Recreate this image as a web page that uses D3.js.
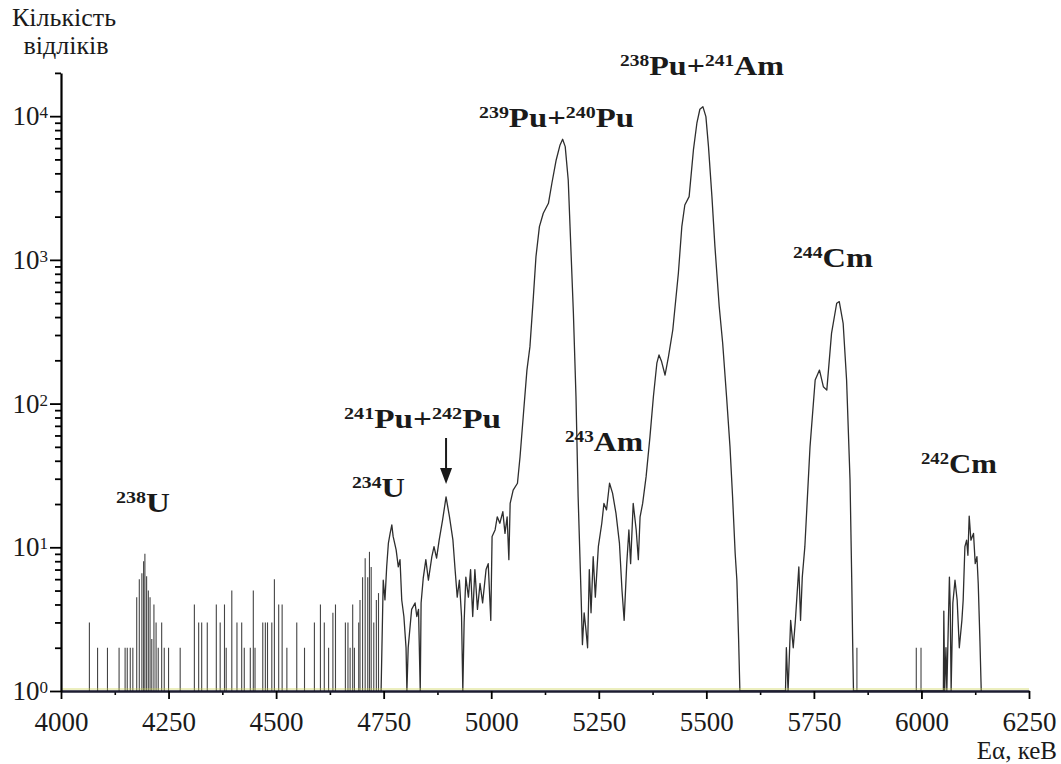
<!DOCTYPE html>
<html>
<head>
<meta charset="utf-8">
<script src="https://cdn.jsdelivr.net/npm/d3@7"></script>
<style>
  body { margin: 0; background: #fff; }
  svg { display: block; }
</style>
</head>
<body>
<svg id="chart" width="1061" height="764"></svg>
<script>
// ---- data (energies in keV, counts per channel) ----
// isolated one-channel spikes of the background
const spikeE = [4066, 4085, 4108, 4135, 4149, 4154, 4161, 4167, 4176, 4182, 4188, 4192, 4195, 4199, 4203, 4207, 4211, 4216,
  4221, 4226, 4234, 4240, 4250, 4277, 4310, 4320, 4327, 4340, 4361, 4370, 4380, 4384, 4397, 4409, 4420, 4426, 4440, 4447, 4451,
  4469, 4475, 4480, 4490, 4496, 4506, 4514, 4525, 4548, 4566, 4589, 4603, 4612, 4622, 4632, 4638, 4661, 4667, 4672, 4678, 4682,
  4692, 4695, 4701, 4707, 4713, 4717, 4721, 4727, 4733, 4738, 5850, 5988, 5999];
const spikeN = [3, 2, 2, 2, 2, 2, 2, 2, 4.5, 6, 6.6, 8, 9, 6.3, 5, 4.5, 2.3, 4,
  3, 2, 3, 2, 2, 2, 4, 3, 3, 3, 4, 3, 4, 2, 5, 3, 3, 2, 2, 5, 2,
  3, 3, 3, 3, 6, 4, 4, 2, 3, 2, 3, 4, 3, 2, 3.5, 4, 3, 3, 2, 4, 2,
  3, 4.3, 6.2, 8.4, 6.2, 9.3, 7.3, 3, 4.3, 4.8, 2, 2, 2];

// continuous trace (234U ... 238Pu+241Am, 244Cm, 242Cm)
const traceE = [4744, 4749, 4753, 4757, 4761, 4765, 4769, 4772, 4779, 4784,
  4788, 4792, 4797, 4802, 4804, 4807, 4815, 4823, 4827, 4831,
  4835, 4837, 4842, 4848, 4854, 4862, 4867, 4873, 4879, 4887,
  4895, 4903, 4911, 4916, 4921, 4926, 4931, 4934, 4937, 4941,
  4947, 4952, 4957, 4962, 4968, 4974, 4980, 4988, 4993, 4999,
  5002, 5009, 5014, 5020, 5027, 5032, 5037, 5041, 5044, 5051,
  5061, 5067, 5075, 5083, 5090, 5098, 5104, 5112, 5121, 5133,
  5141, 5151, 5160, 5166, 5172, 5179, 5185, 5191, 5197, 5202,
  5209, 5212, 5216, 5220, 5224, 5228, 5232, 5237, 5242, 5249,
  5257, 5262, 5268, 5275, 5282, 5290, 5298, 5304, 5309, 5315,
  5320, 5324, 5330, 5337, 5342, 5346, 5352, 5360, 5369, 5377,
  5385, 5390, 5396, 5404, 5412, 5422, 5435, 5443, 5450, 5460,
  5470, 5478, 5485, 5492, 5499, 5505, 5513, 5520, 5530, 5538,
  5547, 5555, 5561, 5567, 5571, 5575, 5578,
  5684, 5686, 5690, 5696, 5702, 5707, 5715, 5719, 5723, 5729, 5741, 5753,
  5763, 5772, 5780, 5791, 5803, 5809, 5818, 5826, 5834, 5838, 5840, 5842,
  6051, 6052, 6054, 6057, 6059, 6065, 6067, 6069, 6073, 6078, 6083, 6088, 6094,
  6097, 6101, 6105, 6108, 6111, 6115, 6121, 6125, 6129, 6132, 6136, 6139];
const traceN = [1, 5.9, 4.3, 7.3, 10.7, 12.5, 14.3, 11.9, 9.6, 7.3,
  8.2, 4.3, 3.3, 2.0, 1, 2.0, 3.7, 4.1, 3.3, 3.7,
  1, 4.1, 6.1, 8.2, 5.9, 8.6, 10.1, 8.4, 11.2, 15.5,
  22.4, 16.3, 11.2, 7.0, 4.5, 5.9, 3.3, 1, 3.0, 6.2,
  4.5, 7.0, 3.3, 7.0, 3.7, 5.6, 4.1, 7.0, 7.7, 3.1,
  11.9, 13.2, 16.3, 14.7, 17.7, 12.5, 16.3, 8.2, 20.2, 25,
  27.9, 42.7, 85.6, 171, 249, 555, 1052, 1702, 2109, 2476,
  3413, 4956, 6310, 6910, 6137, 3598, 1236, 425, 112, 22.5,
  4.5, 2.1, 3.5, 2.7, 2.0, 7.0, 3.5, 8.6, 4.5, 10.1,
  14.7, 20.2, 18.2, 27.9, 23.8, 17.2, 10.7, 5.0, 3.1, 7.7,
  13.2, 7.7, 20.2, 13.2, 8.2, 16.3, 20.2, 31, 58.9, 112,
  191, 218, 196, 158, 212, 325, 807, 1702, 2410, 2754,
  5820, 8930, 11170, 11640, 9930, 6137, 2754, 1236, 472, 263,
  112, 50, 22.5, 9.1, 5.9, 2.3, 1,
  1, 2, 1, 3.1, 2, 3.1, 7.3, 3.1, 6.2, 10.1, 50, 146,
  171, 131, 124, 308, 499, 512, 362, 146, 29.4, 5.9, 2.3, 1,
  1, 3.6, 1, 2.0, 1, 6.2, 3.7, 1, 4.1, 5.9, 4.3, 2.0, 3.1,
  4.3, 10.1, 11.2, 8.8, 16.5, 11.2, 12.5, 7.7, 8.6, 5.6, 2.2, 1];

const xTicks = [4000, 4250, 4500, 4750, 5000, 5250, 5500, 5750, 6000, 6250];
const yTicks = [1, 10, 100, 1000, 10000];
const yExp = ["0", "1", "2", "3", "4"];

// isotope labels: [superscript, text, superscript, text]
const isoLabels = [["238", "U"], ["234", "U"], ["241", "Pu+", "242", "Pu"], ["239", "Pu+", "240", "Pu"],
  ["238", "Pu+", "241", "Am"], ["243", "Am"], ["244", "Cm"], ["242", "Cm"]];
const arrowAt = 4895; // 241Pu+242Pu peak

// ---- chart ----
const serif = "Liberation Serif";
const ink = "#1a1a1a";
const svg = d3.select("#chart");
const x = d3.scaleLinear().domain([4000, 6250]).range([61, 1029]);
const y = d3.scaleLog().domain([1, 20000]).range([691, 72.9]);

// spectrum
const g = svg.append("g");
g.selectAll("line.spike").data(spikeE).join("line")
  .attr("class", "spike")
  .attr("x1", d => x(d)).attr("x2", d => x(d))
  .attr("y1", y(1)).attr("y2", (d, i) => y(spikeN[i]))
  .attr("stroke", "#444").attr("stroke-width", 1.1);

const line = d3.line()
  .x(i => x(traceE[i]))
  .y(i => y(traceN[i]));
g.append("path")
  .attr("d", line(d3.range(traceE.length)))
  .attr("fill", "none").attr("stroke", "#2e2e2e")
  .attr("stroke-width", 1.3).attr("stroke-linejoin", "round");

// faint scanner tint along the baseline
svg.append("line").attr("x1", x(4000)).attr("x2", x(6250))
  .attr("y1", y(1) - 2).attr("y2", y(1) - 2)
  .attr("stroke", "#c9d24a").attr("stroke-width", 1).attr("opacity", 0.7);

// axes
const xMinor = xTicks.slice(1).map(t => t - 125);
svg.append("g").attr("transform", `translate(0,${y(1)})`)
  .call(d3.axisBottom(x).tickValues(xMinor).tickSize(4).tickFormat(""))
  .call(a => a.select(".domain").remove())
  .selectAll(".tick line").attr("stroke-width", 1.6);
const xa = svg.append("g").attr("transform", `translate(0,${y(1)})`)
  .call(d3.axisBottom(x).tickValues(xTicks).tickSize(8).tickSizeOuter(0).tickPadding(13).tickFormat(d3.format("d")));
xa.attr("font-family", serif).attr("font-size", 27);
xa.selectAll("text").attr("fill", ink);
xa.select(".domain").attr("stroke-width", 2.4).attr("stroke", "#1c1c30");
xa.selectAll(".tick line").attr("stroke-width", 1.8);

const yMinor = y.ticks(40).filter(v => !yTicks.includes(v));
svg.append("g").attr("transform", `translate(${x(4000)},0)`)
  .call(d3.axisLeft(y).tickValues(yMinor).tickSize(6).tickFormat(""))
  .call(a => a.select(".domain").remove())
  .selectAll(".tick line").attr("stroke-width", 1.8);
const ya = svg.append("g").attr("transform", `translate(${x(4000)},0)`)
  .call(d3.axisLeft(y).tickValues(yTicks).tickSize(11).tickSizeOuter(0).tickPadding(2).tickFormat(() => "10"));
ya.attr("font-family", serif).attr("font-size", 27);
ya.select(".domain").attr("stroke-width", 2.2);
ya.selectAll(".tick line").attr("stroke-width", 1.8);
ya.selectAll(".tick text")
  .attr("fill", ink)
  .each(function(d, i) {
    d3.select(this).append("tspan").attr("font-size", 17).attr("dy", "-0.42em").text(yExp[i]);
  });

// axis titles
svg.append("text").attr("x", 12).attr("y", 26).attr("font-size", 26).attr("fill", ink)
  .attr("font-family", serif).text("Кількість");
svg.append("text").attr("x", 66).attr("y", 54).attr("font-size", 26).attr("fill", ink)
  .attr("font-family", serif).attr("text-anchor", "middle").text("відліків");
svg.append("text").attr("x", 1057).attr("y", 759).attr("font-size", 25).attr("fill", ink)
  .attr("font-family", serif).attr("text-anchor", "end").text("Eα, кеВ");

// isotope labels: left, baseline, width
const labelBox = [[116, 512, 54], [352, 497, 53], [344, 428, 157], [479, 127, 155],
  [620, 75, 164], [565, 451, 78], [793, 267, 80], [921, 473, 76]];
isoLabels.forEach((parts, k) => {
  const [lx, ly, w] = labelBox[k];
  const t = svg.append("text").attr("x", lx).attr("y", ly)
    .attr("font-family", serif)
    .attr("font-weight", "bold").attr("font-size", 28).attr("fill", ink)
    .attr("textLength", w).attr("lengthAdjust", "spacingAndGlyphs");
  parts.forEach((p, j) => {
    const sup = j % 2 === 0;
    t.append("tspan").attr("font-size", sup ? 17 : 28)
      .attr("dy", sup ? -9 : 9).text(p);
  });
});

// arrow to the 241Pu+242Pu peak
const ax = x(arrowAt);
svg.append("line").attr("x1", ax).attr("x2", ax).attr("y1", 438).attr("y2", 470)
  .attr("stroke", ink).attr("stroke-width", 2);
svg.append("path").attr("d", `M${ax - 6},468 L${ax + 6},468 L${ax},484 Z`).attr("fill", ink);
</script>
</body>
</html>
